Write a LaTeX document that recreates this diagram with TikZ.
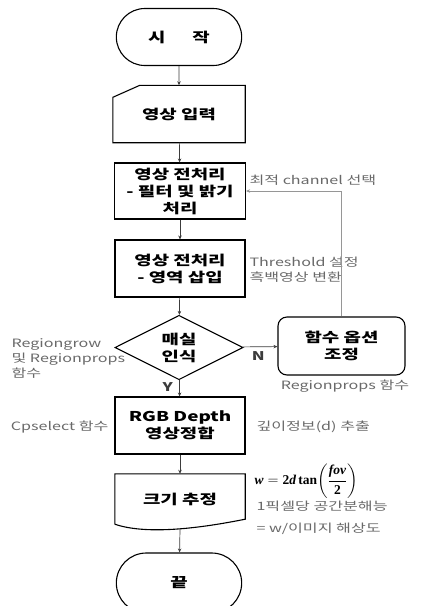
\documentclass[tikz,border=0pt]{standalone}
\usepackage{amsmath}
\usepackage{fontspec}
\setmainfont{Noto Sans CJK KR}[FakeStretch=1.4]
\newfontfamily\fovfont{Liberation Serif}
\definecolor{fcgray}{RGB}{105,105,105}
\definecolor{fcline}{RGB}{60,60,60}
\definecolor{fcfeed}{RGB}{150,150,150}
\usetikzlibrary{arrows.meta,positioning,shapes.geometric,shapes.misc,calc}
\newsavebox{\fovbox}

\begin{document}
\sbox{\fovbox}{\fovfont\fontsize{13.5}{15}\selectfont\bfseries
  $\text{\itshape w} = \text{2\itshape d}\,\text{tan}\!\left(\dfrac{\text{\itshape fov}}{\text{2}}\right)$}
\begin{tikzpicture}[x=1pt,y=-1pt,
  boxtext/.style={font=\fontsize{13.5}{17}\selectfont\bfseries,align=center},
  term/.style={draw,line width=1.1pt,rounded rectangle,minimum width=132pt,minimum height=57pt,boxtext},
  proc/.style={draw,line width=1.1pt,minimum width=131pt,minimum height=56pt,boxtext},
  shp/.style={line width=1.1pt},
  note/.style={font=\fontsize{11.5}{15}\selectfont,fcgray,align=left},
  yn/.style={font=\fontsize{12}{14}\selectfont\bfseries},
  arr/.style={-{Stealth[length=4pt,width=3.5pt]},fcline,line width=0.7pt},
  feed/.style={-{Stealth[length=4pt,width=3.5pt]},fcfeed,line width=1pt}]
  \useasboundingbox (0,0) rectangle (434,606);
  % Start
  \node[term] (start) at (179,37) {시\hspace{2em}작};
  % Image input
  \node[minimum width=132pt,minimum height=57pt,boxtext] (input) at (179,114) {영상 입력};
  \draw[shp] ($(input.north west)+(0,12)$) -- ($(input.north west)+(27,0)$) -- (input.north east)
    -- (input.south east) -- (input.south west) -- cycle;
  \draw[arr] (start) -- (input);
  % Preprocessing 1
  \node[proc] (pre1) at (180,191) {영상 전처리\\- 필터 및 밝기\\처리};
  \draw[arr] (input) -- (pre1);
  \node[note,anchor=west] (chan) at (246,180) {최적 channel 선택};
  % Preprocessing 2
  \node[proc,minimum width=130pt,minimum height=57pt] (pre2) at (180,268.5) {영상 전처리\\- 영역 삽입};
  \draw[arr] (pre1) -- (pre2);
  \node[note,anchor=west] (thr) at (246,270) {Threshold 설정\\흑백영상 변환};
  % Detection
  \node[draw,shp,diamond,minimum width=128pt,minimum height=57pt,boxtext,inner sep=0pt] (det) at (179,347.5) {매실\\인식};
  \draw[arr] (pre2) -- (det);
  \node[note,anchor=north west] (rgrow) at (8,335) {Regiongrow\\및 Regionprops\\함수};
  % Option adjust
  \node[draw,shp,rounded corners=9pt,minimum width=127pt,minimum height=58pt,boxtext] (opt) at (341.5,346) {함수 옵션\\조정};
  \draw[arr] (det) -- node[pos=0.45,below=1pt,yn] (nlab) {N} (opt);
  \node[note] (rprops) at (345,386) {Regionprops 함수};
  \draw[feed] (opt.north) |- (pre1.east);
  % Registration
  \node[proc,minimum width=130pt,minimum height=57pt] (reg) at (180,425.5) {RGB Depth\\영상정합};
  \draw[arr] (det) -- node[pos=0.45,left=3pt,yn] (ylab) {Y} (reg);
  \node[note,anchor=east] (cps) at (112,427) {Cpselect 함수};
  \node[note,anchor=west] (depth) at (253,427) {깊이정보(d) 추출};
  % Size estimation
  \node[minimum width=130pt,minimum height=50pt,boxtext] (est) at (180,499) {크기 추정};
  \draw[shp] (est.south west) -- (est.north west) -- (est.north east) -- ($(est.south east)+(0,-5)$)
    .. controls ($(est.south east)+(-35,2)$) and ($(est.south west)+(35,12)$) .. (est.south west);
  \draw[arr] (reg) -- (est);
  \node[anchor=west] (wfov) at (251,481) {\usebox{\fovbox}};
  \node[note,anchor=west] (res1) at (253,506) {1픽셀당 공간분해능};
  \node[note,anchor=west] (res2) at (253,529) {= w/이미지 해상도};
  % End
  \node[term,minimum height=60pt] (finish) at (179,583) {끝};
  \draw[arr] ($(est.south)+(0,5)$) -- (finish);
\end{tikzpicture}
\end{document}
